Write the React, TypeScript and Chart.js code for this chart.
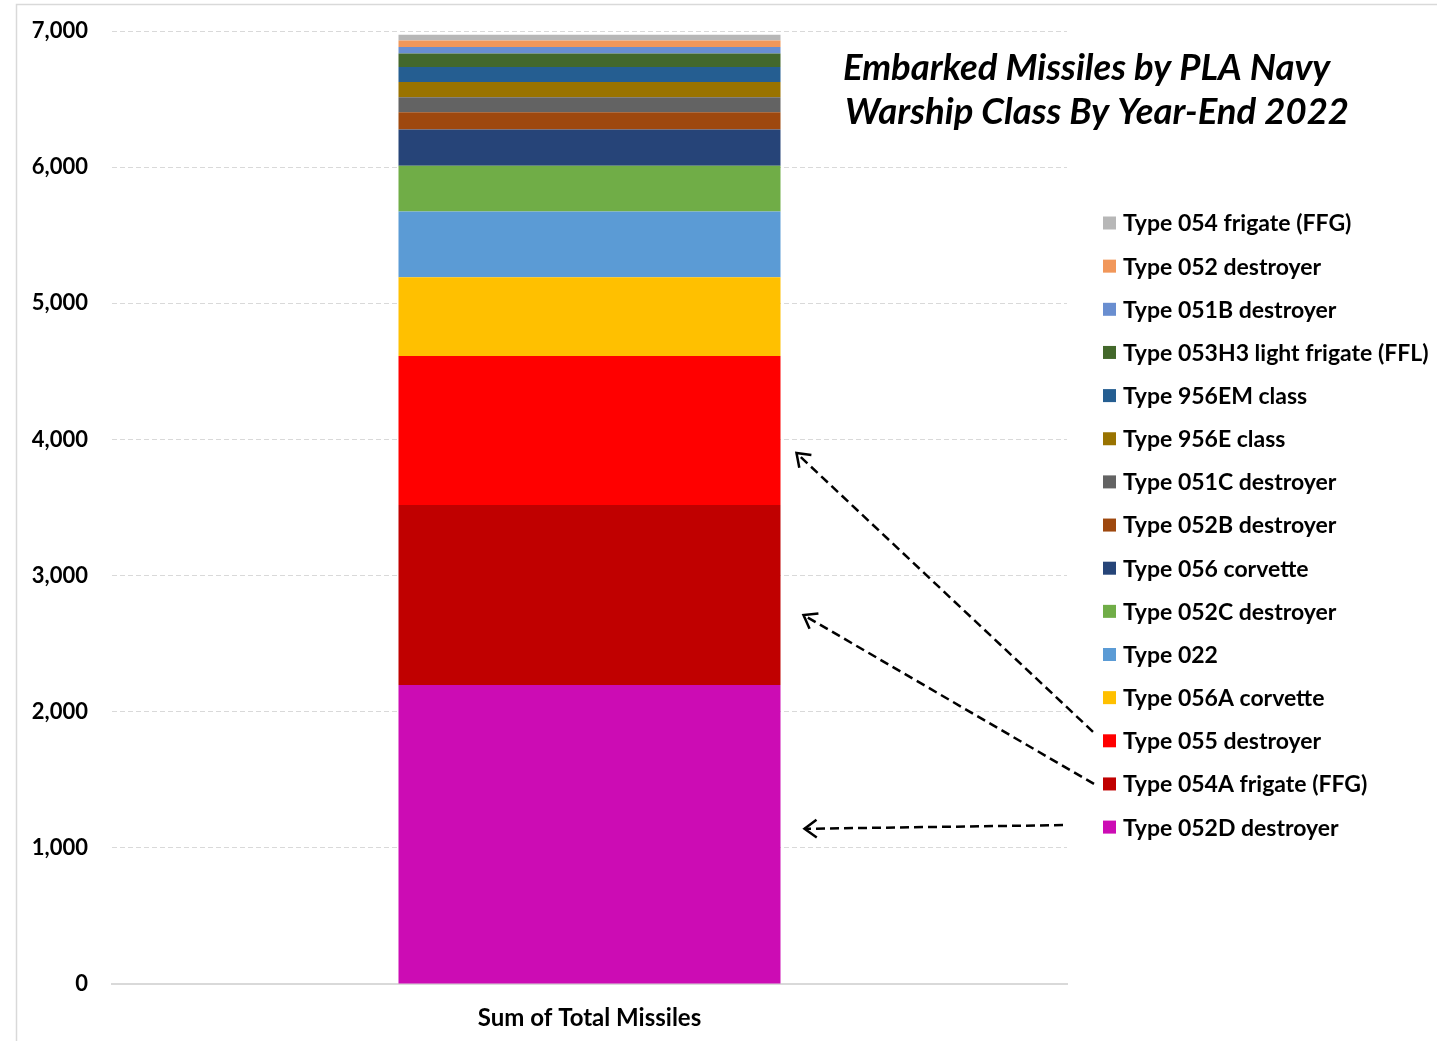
import React, { useEffect, useRef } from "react";
import { Chart, registerables } from "chart.js";

Chart.register(...registerables);

// ---- data ----
const categories = ["Sum of Total Missiles"];
// stack order: bottom -> top
const shipClasses = [
  "Type 052D destroyer",
  "Type 054A frigate (FFG)",
  "Type 055 destroyer",
  "Type 056A corvette",
  "Type 022",
  "Type 052C destroyer",
  "Type 056 corvette",
  "Type 052B destroyer",
  "Type 051C destroyer",
  "Type 956E class",
  "Type 956EM class",
  "Type 053H3 light frigate (FFL)",
  "Type 051B destroyer",
  "Type 052 destroyer",
  "Type 054 frigate (FFG)",
];
const missiles = [2196, 1322, 1094, 580, 483, 335, 267, 127, 110, 112, 110, 98, 48, 49, 42];
const classColors = [
  "#CC0CB4",
  "#C00000",
  "#FF0000",
  "#FFC000",
  "#5B9BD5",
  "#70AD47",
  "#264478",
  "#9E480E",
  "#636363",
  "#997300",
  "#255E91",
  "#43682B",
  "#698ED0",
  "#F1975A",
  "#B7B7B7",
];
const yTickValues = [0, 1000, 2000, 3000, 4000, 5000, 6000, 7000];
const titleLines = ["Embarked Missiles by PLA Navy", "Warship Class By Year-End 2022"];
// arrows from legend entries to points inside the bar (value in data units)
const arrowTargets = [
  { label: "Type 055 destroyer", value: 3900 },
  { label: "Type 054A frigate (FFG)", value: 2710 },
  { label: "Type 052D destroyer", value: 1140 },
];

const FONT = "Lato, 'Open Sans', sans-serif";

const W = 1437;
const H = 1041;

const LEGEND_TOP = 223;
const LEGEND_STEP = 43.15;
const LEGEND_BOX_X = 1103;
const LEGEND_TEXT_X = 1123;

const arrowGeom = [
  { headDx: 16, tailX: 1093, tailDy: -9 },
  { headDx: 23, tailX: 1094, tailDy: 0 },
  { headDx: 24, tailX: 1063, tailDy: -2 },
];

const decorPlugin = {
  id: "decor",
  beforeDraw(chart: any) {
    const ctx = chart.ctx;
    ctx.save();
    ctx.fillStyle = "#ffffff";
    ctx.fillRect(0, 0, chart.width, chart.height);
    ctx.strokeStyle = "#d9d9d9";
    ctx.lineWidth = 1.5;
    ctx.beginPath();
    ctx.moveTo(16.5, chart.height);
    ctx.lineTo(16.5, 4.5);
    ctx.lineTo(chart.width, 4.5);
    ctx.stroke();
    ctx.restore();
  },
  afterDraw(chart: any) {
    const ctx = chart.ctx;
    ctx.save();
    // title
    ctx.fillStyle = "#000";
    ctx.font = `italic bold 36.5px ${FONT}`;
    ctx.textAlign = "left";
    ctx.textBaseline = "alphabetic";
    ctx.fillText(titleLines[0], 843, 80);
    ctx.fillText(titleLines[1], 845, 124);

    // legend (reversed order: top of stack first)
    const n = chart.data.datasets.length;
    const legendY: Record<string, number> = {};
    for (let k = 0; k < n; k++) {
      const ds = chart.data.datasets[n - 1 - k];
      const cy = LEGEND_TOP + k * LEGEND_STEP;
      legendY[ds.label] = cy;
      ctx.fillStyle = ds.backgroundColor;
      ctx.fillRect(LEGEND_BOX_X, cy - 6.5, 13, 13);
      ctx.fillStyle = "#000";
      ctx.font = `bold 23px ${FONT}`;
      ctx.textBaseline = "middle";
      ctx.fillText(ds.label, LEGEND_TEXT_X, cy + 1);
    }

    // arrows
    const yScale = chart.scales.y;
    const meta = chart.getDatasetMeta(0);
    const bar = meta.data[0] as any;
    const barRight = bar.x + bar.width / 2;
    arrowTargets.forEach((a, i) => {
      const g = arrowGeom[i];
      const hx = barRight + g.headDx;
      const hy = yScale.getPixelForValue(a.value);
      const tx = g.tailX;
      const ty = legendY[a.label] + g.tailDy;
      ctx.strokeStyle = "#000";
      ctx.lineWidth = 2.5;
      ctx.setLineDash([9, 5]);
      ctx.beginPath();
      ctx.moveTo(tx, ty);
      ctx.lineTo(hx, hy);
      ctx.stroke();
      ctx.setLineDash([]);
      const ang = Math.atan2(ty - hy, tx - hx);
      const len = 15;
      const spread = Math.PI / 5;
      ctx.beginPath();
      ctx.moveTo(hx + len * Math.cos(ang + spread), hy + len * Math.sin(ang + spread));
      ctx.lineTo(hx, hy);
      ctx.lineTo(hx + len * Math.cos(ang - spread), hy + len * Math.sin(ang - spread));
      ctx.stroke();
    });
    ctx.restore();
  },
};

export default function App() {
  const ref = useRef<HTMLCanvasElement | null>(null);
  useEffect(() => {
    if (!ref.current) return;
    const chart = new Chart(ref.current, {
      type: "bar",
      data: {
        labels: categories,
        datasets: shipClasses.map((name, i) => ({
          label: name,
          data: [missiles[i]],
          backgroundColor: classColors[i],
          borderWidth: 0,
          categoryPercentage: 0.4,
          barPercentage: 1,
        })),
      },
      options: {
        responsive: false,
        animation: false,
        layout: { padding: { left: 0, right: 370, top: 31, bottom: 0 } },
        plugins: {
          legend: { display: false },
          tooltip: { enabled: false },
          title: { display: false },
        },
        scales: {
          x: {
            stacked: true,
            grid: { display: false },
            border: { display: true, color: "#d9d9d9", width: 2 },
            ticks: {
              color: "#000",
              font: { family: FONT, size: 24, weight: "bold" },
              padding: 12,
            },
            afterFit(scale: any) {
              scale.height = 57;
              scale.paddingLeft = 0;
              scale.paddingRight = 0;
            },
          },
          y: {
            stacked: true,
            min: 0,
            max: 7000,
            afterBuildTicks(scale: any) {
              scale.ticks = yTickValues.map((v) => ({ value: v }));
            },
            grid: { color: "#d9d9d9", lineWidth: 1, drawTicks: false },
            border: { display: false, dash: [5, 3] },
            ticks: {
              color: "#000",
              padding: 24,
              font: { family: FONT, size: 22, weight: "bold" },
              callback: (v: any) => Number(v).toLocaleString("en-US"),
            },
            afterFit(scale: any) {
              scale.width = 112;
              scale.paddingTop = 0;
              scale.paddingBottom = 0;
            },
          },
        },
      },
      plugins: [decorPlugin],
    });
    return () => chart.destroy();
  }, []);
  return (
    <div style={{ position: "absolute", left: 0, top: 0, width: W, height: H }}>
      <canvas ref={ref} width={W} height={H} style={{ display: "block" }} />
    </div>
  );
}
